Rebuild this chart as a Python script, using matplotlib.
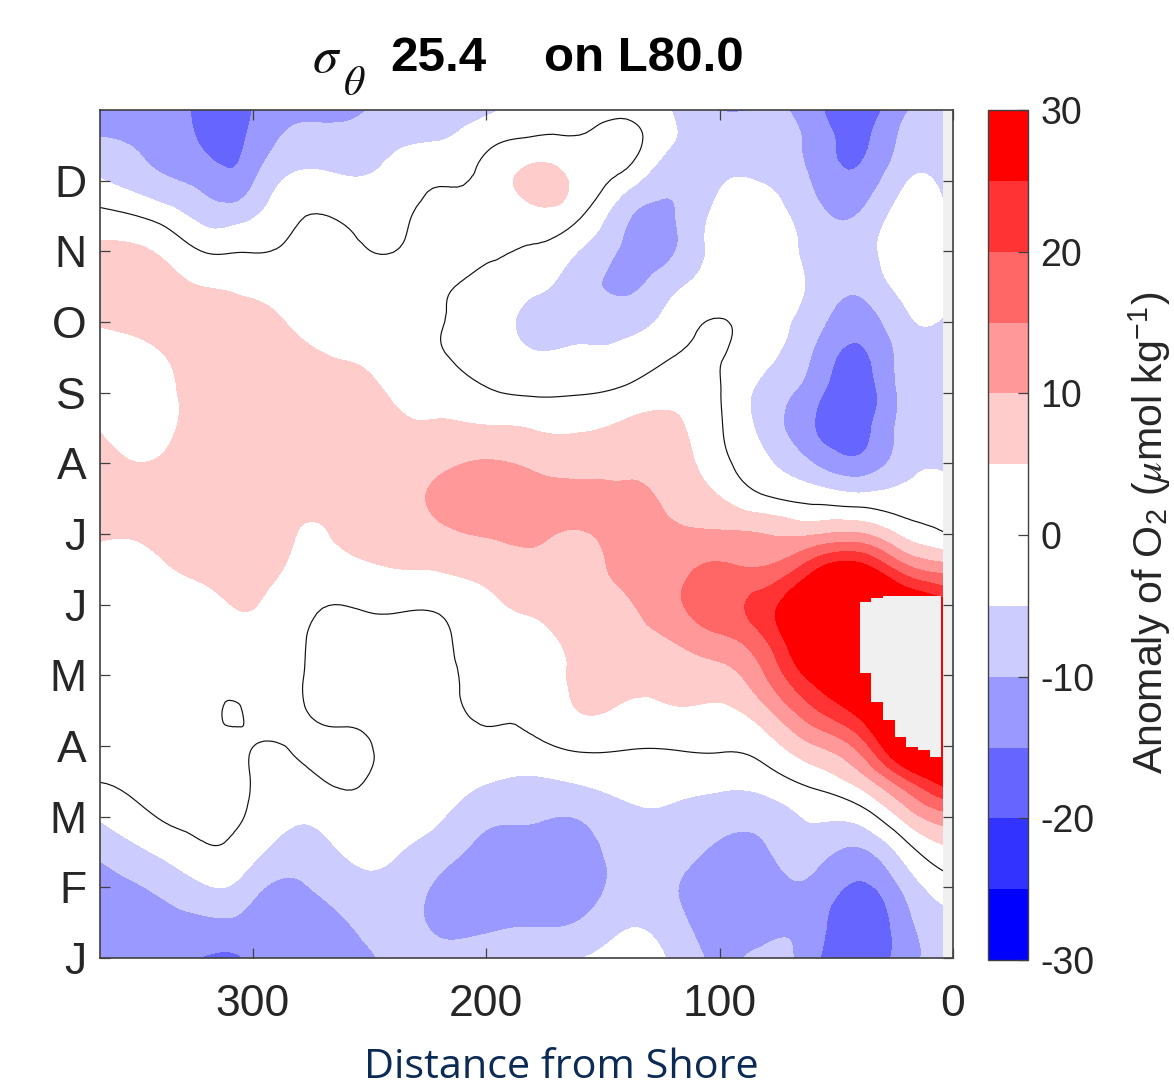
import numpy as np
import matplotlib
matplotlib.use("Agg")
import matplotlib.pyplot as plt
import matplotlib.tri as mtri
from matplotlib.colors import ListedColormap, BoundaryNorm
from matplotlib.cm import ScalarMappable

plt.rcParams['font.family'] = ['Liberation Sans', 'DejaVu Sans']
plt.rcParams['mathtext.fontset'] = 'custom'
plt.rcParams['mathtext.rm'] = 'Liberation Sans'
plt.rcParams['mathtext.it'] = 'STIXGeneral:italic'
plt.rcParams['mathtext.bf'] = 'Liberation Sans:bold'
plt.rcParams['axes.unicode_minus'] = False

# Months since January, top row first
months = [12, 11.5, 11, 10.5, 10, 9.5, 9, 8.5, 8, 7.5, 7, 6.5, 6, 5.5, 5, 4.5, 4, 3.5, 3, 2.5, 2, 1.5, 1, 0.5, 0]
month_labels = ['J', 'F', 'M', 'A', 'M', 'J', 'J', 'A', 'S', 'O', 'N', 'D']
distance = [366, 340, 320, 307, 300, 280, 260, 240, 220, 200, 180, 160, 140, 120, 100, 80, 60, 40, 20, 4.3]

# Oxygen anomaly read per distance column
o2_366 = [-12, -9.2, -4.5, 1.5, 6, 7, 5.3, 3.5, 3.5, 4.8, 7, 7, 5.5, 3.5, 3, 2.5, 2, 1.5, 1, 0.05, -4.5, -9.2, -12, -12.5, -13]
o2_340 = [-12.5, -11.5, -9, -1.8, 4.5, 6.5, 6.5, 4.5, 3, 3.5, 5.5, 7, 6, 4.5, 3.5, 3, 2.7, 2.5, 2, 1.3, 0.2, -4.2, -9.2, -11.5, -13]
o2_320 = [-16.5, -15.7, -12, -7, -0.3, 4.9, 7.5, 8, 8, 7.5, 8, 8, 7.5, 6, 4.2, 3.5, 3, 2.5, 2, 1.5, 1, -0.7, -5.5, -11, -15.3]
o2_307 = [-17, -16, -13.5, -7, -0.2, 4.2, 7.5, 8.5, 8.5, 8.5, 8.5, 8.5, 8, 6.8, 5.2, 3.5, 3, -0.6, 1.2, 1, 0.4, -1.5, -6, -11, -15.6]
o2_300 = [-14.9, -13.5, -10.5, -5.5, -0.2, 3.7, 7, 8, 9, 9, 9, 9, 8.5, 7, 5.2, 3.5, 2.5, 1.5, 0.05, -0.2, -0.7, -3.5, -8.5, -12, -14]
o2_280 = [-11, -8, -3.7, -0.3, 1, 2.5, 4.2, 6, 7.5, 8, 8, 6.3, 4.8, 3.5, 1.5, 0.5, 0.25, 0.5, 0.5, -1.2, -4.3, -7.5, -10.5, -12, -13]
o2_260 = [-11, -7.9, -4.5, -0.7, 0.8, 2, 3, 4.8, 6.5, 8, 8, 7, 5.7, 3.5, 0.1, -1, -1, -0.6, 0.8, 0.6, -2.5, -4.6, -7.5, -10.2, -12]
o2_240 = [-8, -5.6, -3.2, -1, -0.05, 1.5, 2.5, 3.5, 4.7, 5.8, 7, 7, 6, 4.9, 0.8, -0.8, -1, -1.2, -1, -2, -3, -4.6, -6.5, -8, -9]
o2_220 = [-7, -4.5, -0.5, 1, 1.2, 0.4, 0.15, 0.4, 3, 5.5, 8.5, 11.5, 8.5, 5.2, 1, -1, -1.3, -1.5, -2, -3, -4.6, -7.8, -11, -11, -8]
o2_200 = [-6, -0.8, 1.5, 1, 0.4, -1, -1.6, -1.2, 0.5, 5.5, 10.5, 13, 10.4, 6.5, 4, 3, 2, 0.8, -1.3, -4.7, -8.8, -11.5, -13, -11, -8]
o2_180 = [-2, 1.5, 7, 3, -0.4, -3.7, -6.8, -4.2, -0.6, 4.8, 8.8, 13, 11, 8.5, 6, 3.5, 2.5, 1, -1, -5.8, -9.5, -12, -13.5, -10.5, -7]
o2_160 = [-2, 1, 3.5, 0.5, -5.3, -8, -7, -3.8, -0.3, 4.5, 8, 11.5, 9.6, 8.5, 7.5, 6.5, 5.8, 5.1, 1, -4.5, -9.7, -12, -13, -9.7, -5.2]
o2_140 = [-1.5, 2, -2.5, -9.2, -11, -10.8, -6.8, -3.4, 1.2, 6, 8.8, 11, 11.5, 11, 9.5, 8, 6, 4.4, 0.5, -3.2, -6.3, -8, -8, -5.5, -3.5]
o2_120 = [-5.2, -5.2, -9, -10.4, -10.4, -6.2, -3, 0.05, 3.5, 6, 7.5, 9, 10.7, 13, 13.8, 10.2, 6.5, 4.6, 0.5, -3.2, -6, -8, -9.5, -8, -5.8]
o2_100 = [-10.2, -6.5, -5.6, -3.5, -3, -3, 0.3, 0.3, 0.2, 0.5, 1.7, 5.3, 10.7, 16, 18, 13.8, 8, 4.2, 0.7, -3.6, -8, -11, -13, -13, -11]
o2_080 = [-9.6, -8.3, -5.5, -3, -2.5, -2.5, -3, -4, -7, -7, -4.3, 0.7, 9.9, 15.7, 22.9, 20, 15.2, 9, 2.7, -2.5, -8.1, -10.4, -12.5, -12, -8.5]
o2_060 = [-13, -11.5, -10.5, -8, -6.5, -6, -7.8, -10.5, -13, -14.7, -10, -1.5, 9.5, 24, 32, 33, 27, 19, 9.5, 1.5, -4.5, -8.2, -11, -12.5, -13.5]
o2_040 = [-18, -16, -13.5, -9.6, -7.5, -8.8, -12.8, -16.2, -18, -17, -13.5, -3, 10.5, 28, 36, 38, 34, 27, 17, 7, -3, -11, -16, -19, -19]
o2_020 = [-10.5, -8, -5.3, -2, -1, -3, -6, -7.5, -8, -8, -7, -3, 3.5, 17, 32, 40, 40, 38, 34, 19, 7, -2.5, -8.5, -11.5, -12]
o2_004 = [-8.5, -7.8, -6, -4, -1.5, -2, -5.5, -7, -8, -8, -6, -2.5, 0.4, 13, 28, 40, 40, 40, 38, 27, 13, 3.5, -2.7, -7, -9]

# Cells with no data next to the coast
missing_distance = [37.5, 32.5, 27.5, 22.5, 17.5, 12.5, 7.5]
missing_top = [5.04, 5.09, 5.12, 5.12, 5.12, 5.12, 5.12]
missing_bottom = [4.03, 3.62, 3.37, 3.13, 2.98, 2.94, 2.84]

levels = [-30, -25, -20, -15, -10, -5, 5, 10, 15, 20, 25, 30]
colors = ['#0000ff', '#3333ff', '#6666ff', '#9999ff', '#ccccff', '#ffffff',
          '#ffcccc', '#ff9999', '#ff6666', '#ff3333', '#ff0000']
cbar_ticks = [-30, -20, -10, 0, 10, 20, 30]
x_ticks = [300, 200, 100, 0]

Z = np.column_stack([o2_366, o2_340, o2_320, o2_307, o2_300, o2_280, o2_260, o2_240,
                     o2_220, o2_200, o2_180, o2_160, o2_140, o2_120, o2_100, o2_080,
                     o2_060, o2_040, o2_020, o2_004])

W, H = 1174, 1087
fig = plt.figure(figsize=(W / 100, H / 100), dpi=100, facecolor='white')
ax = fig.add_axes([100 / W, 1 - 958 / H, 853 / W, 848 / H])
ax.set_facecolor('#f0f0f0')

cmap = ListedColormap(colors)
cmap.set_over('#ff0000')
cmap.set_under('#0000ff')
norm = BoundaryNorm(levels, cmap.N)

# Smooth contours with matplotlib's triangulation refiner, on a grid scaled to screen proportions
sx, sy = 853 / 365.5, 848 / 12
DD, MM = np.meshgrid(distance, months)
tri_fine, z_fine = mtri.UniformTriRefiner(mtri.Triangulation(DD.ravel() * sx, MM.ravel() * sy)).refine_field(
    Z.ravel(), subdiv=3)
tri_plot = mtri.Triangulation(tri_fine.x / sx, tri_fine.y / sy, tri_fine.triangles)

ax.tricontourf(tri_plot, z_fine, levels=levels, cmap=cmap, norm=norm, extend='both', antialiased=False, zorder=1)
ax.tricontour(tri_plot, z_fine, levels=[0], colors='#111111', linewidths=0.85, zorder=2)
ax.bar(missing_distance, np.array(missing_top) - np.array(missing_bottom), width=5,
       bottom=missing_bottom, color='#f0f0f0', linewidth=0, zorder=3)

ax.set_xlim(365.5, 0)
ax.set_ylim(0, 12)
ax.set_xticks(x_ticks)
ax.set_yticks(range(12))
ax.set_yticklabels(month_labels)
edge = '#404040'
for s in ax.spines.values():
    s.set_color(edge)
    s.set_linewidth(1.2)
    s.set_zorder(5)
ax.tick_params(axis='both', direction='in', length=7, width=0.9, color=edge,
               top=True, right=True, labelsize=32, labelcolor='#262626')
ax.tick_params(axis='x', pad=19)
ax.tick_params(axis='y', pad=10)

cax = fig.add_axes([988 / W, 1 - 960 / H, 40 / W, 850 / H])
cb = fig.colorbar(ScalarMappable(norm=norm, cmap=cmap), cax=cax, spacing='proportional', ticks=cbar_ticks)
cb.ax.minorticks_off()
cb.ax.set_yticklabels([str(t) for t in cbar_ticks])
cb.outline.set_edgecolor(edge)
cb.outline.set_linewidth(1.0)
cb.ax.tick_params(direction='in', length=7, width=0.9, color=edge, labelsize=27, labelcolor='#262626', pad=9)

fig.text(1150 / W, 1 - 533 / H, r'Anomaly of O$_2$ ($\mu$mol kg$^{\mathrm{-1}}$)', rotation=90,
         ha='center', va='center', fontsize=29.5, color='#262626')

fig.text(312 / W, 1 - 72 / H, r'$\sigma$', fontsize=37, ha='left', va='baseline', color='#111111')
fig.text(343 / W, 1 - 95 / H, r'$\theta$', fontsize=30, ha='left', va='baseline', color='#111111')
fig.text(390 / W, 1 - 71 / H, '25.4', fontsize=35.5, fontweight='bold', ha='left', va='baseline', color='black')
fig.text(544 / W, 1 - 71 / H, 'on L80.0', fontsize=35.5, fontweight='bold', ha='left', va='baseline', color='black')

fig.text(561 / W, 1 - 1078 / H, 'Distance from Shore', fontsize=29.8, family='Open Sans',
         ha='center', va='baseline', color='#0b2a55')

fig.savefig('out.png', dpi=100)
